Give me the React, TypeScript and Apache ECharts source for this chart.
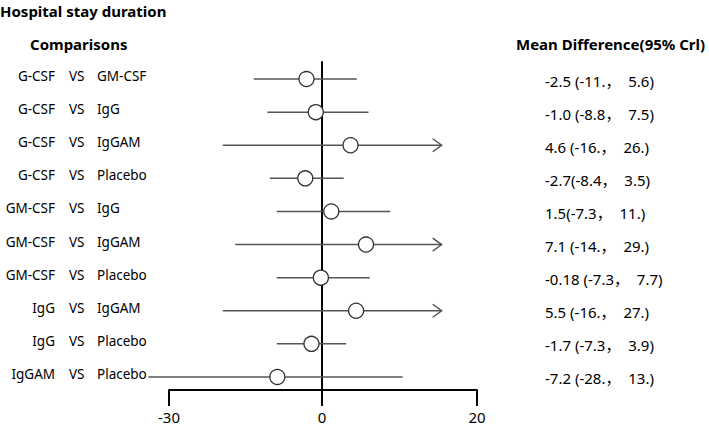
import React, { useEffect, useRef } from "react";
import * as echarts from "echarts";

const compA = ["G-CSF", "G-CSF", "G-CSF", "G-CSF", "GM-CSF", "GM-CSF", "GM-CSF", "IgG", "IgG", "IgGAM"];
const compB = ["GM-CSF", "IgG", "IgGAM", "Placebo", "IgG", "IgGAM", "Placebo", "IgGAM", "Placebo", "Placebo"];
const meanDiff = [-2.5, -1.0, 4.6, -2.7, 1.5, 7.1, -0.18, 5.5, -1.7, -7.2];
const lowerCrI = [-11, -8.8, -16, -8.4, -7.3, -14, -7.3, -16, -7.3, -28];
const upperCrI = [5.6, 7.5, 26, 3.5, 11, 29, 7.7, 27, 3.9, 13];
const mdLabels = [
  "-2.5 (-11.，  5.6)",
  "-1.0 (-8.8，  7.5)",
  "4.6 (-16.，  26.)",
  "-2.7(-8.4，  3.5)",
  "1.5(-7.3，  11.)",
  "7.1 (-14.，  29.)",
  "-0.18 (-7.3，  7.7)",
  "5.5 (-16.，  27.)",
  "-1.7 (-7.3，  3.9)",
  "-7.2 (-28.，  13.)",
];
const axisTicksLeft = [-30, 0];
const axisTicksRight = [0, 20];
const ARROW_CAP = 19.3;

const categories = compA.map((a, i) => `${a} VS ${compB[i]}`);
const FONT = "'Noto Sans', 'Noto Sans CJK SC', sans-serif";

export default function App() {
  const ref = useRef<HTMLDivElement>(null);
  useEffect(() => {
    document.body.style.margin = "0";
    const chart = echarts.init(ref.current!, null, { renderer: "svg" });
    const data = categories.map((_, i) => [i, lowerCrI[i], upperCrI[i], meanDiff[i]]);
    const labelData = categories.map((_, i) => [i, 0]);
    const txt = (text: string, x: number, y: number, align: string, size: number) => ({
      type: "text",
      x,
      y,
      style: { text, fontSize: size, fontFamily: FONT, fill: "#000", align, verticalAlign: "middle" },
    });
    const option: any = {
      animation: false,
      backgroundColor: "#fff",
      textStyle: { fontFamily: FONT, color: "#000" },
      title: [
        { text: "Hospital stay duration", left: 0, top: 3, padding: 0, textStyle: { fontSize: 15, fontWeight: "bold", color: "#000", fontFamily: FONT } },
        { text: "Comparisons", left: 30, top: 36, padding: 0, textStyle: { fontSize: 15, fontWeight: "bold", color: "#000", fontFamily: FONT } },
        { text: "Mean Difference(95% Crl)", left: 516, top: 36, padding: 0, textStyle: { fontSize: 15, fontWeight: "bold", color: "#000", fontFamily: FONT } },
      ],
      grid: [
        { left: 136, width: 310, top: 62.5, height: 331 },
        { left: 169, width: 153, top: 380, height: 10 },
        { left: 322, width: 155, top: 62, height: 328 },
      ],
      xAxis: [
        { type: "value", gridIndex: 0, min: -30, max: 20, show: false },
        {
          type: "value", gridIndex: 1, min: axisTicksLeft[0], max: axisTicksLeft[1], interval: 30,
          axisLine: { show: true, onZero: false, lineStyle: { color: "#000", width: 2 } },
          axisTick: { show: true, length: 16, lineStyle: { color: "#000", width: 2 } },
          axisLabel: { showMaxLabel: false, fontSize: 15, lineHeight: 15, margin: 19, color: "#000", fontFamily: FONT },
          splitLine: { show: false },
        },
        {
          type: "value", gridIndex: 2, min: axisTicksRight[0], max: axisTicksRight[1], interval: 20,
          axisLine: { show: true, onZero: false, lineStyle: { color: "#000", width: 2 } },
          axisTick: { show: true, length: 16, lineStyle: { color: "#000", width: 2 } },
          axisLabel: { fontSize: 15, lineHeight: 15, margin: 19, color: "#000", fontFamily: FONT },
          splitLine: { show: false },
        },
      ],
      yAxis: [
        { type: "category", gridIndex: 0, data: categories, inverse: true, show: false },
        { type: "value", gridIndex: 1, min: 0, max: 1, show: false },
        {
          type: "value", gridIndex: 2, min: 0, max: 1,
          axisLine: { show: true, onZero: false, lineStyle: { color: "#000", width: 2 } },
          axisTick: { show: false }, axisLabel: { show: false }, splitLine: { show: false },
        },
      ],
      series: [
        {
          type: "custom",
          name: "labels",
          xAxisIndex: 0,
          yAxisIndex: 0,
          silent: true,
          data: labelData,
          encode: { y: 0, x: 1 },
          renderItem: (_params: any, api: any) => {
            const idx = api.value(0);
            const p = api.coord([0, idx]);
            return {
              type: "group",
              children: [
                txt(compA[idx], 55, p[1] - 3, "right", 13.5),
                txt("VS", 69, p[1] - 3, "left", 13.5),
                txt(compB[idx], 97, p[1] - 3, "left", 13.5),
                txt(mdLabels[idx], 545, p[1] + 1.5, "left", 15),
              ],
            };
          },
        },
        {
          type: "custom",
          name: "estimates",
          xAxisIndex: 0,
          yAxisIndex: 0,
          z: 5,
          data,
          encode: { y: 0, x: [1, 2, 3] },
          renderItem: (_params: any, api: any) => {
            const idx = api.value(0);
            const lo = api.value(1);
            const hi = api.value(2);
            const m = api.value(3);
            const truncated = hi > ARROW_CAP;
            const pLo = api.coord([lo, idx]);
            const pHi = api.coord([Math.min(hi, ARROW_CAP), idx]);
            const pM = api.coord([m, idx]);
            const children: any[] = [
              {
                type: "line",
                shape: { x1: pLo[0], y1: pLo[1], x2: pHi[0], y2: pHi[1] },
                style: { stroke: "#555", lineWidth: 1.5 },
              },
            ];
            if (truncated) {
              children.push({
                type: "polyline",
                shape: { points: [[pHi[0] - 9, pHi[1] - 6.5], [pHi[0], pHi[1]], [pHi[0] - 9, pHi[1] + 6.5]] },
                style: { stroke: "#555", lineWidth: 1.5, fill: "none" },
              });
            }
            children.push({
              type: "circle",
              shape: { cx: pM[0], cy: pM[1], r: 7.5 },
              style: { stroke: "#333", lineWidth: 1.3, fill: "#fff" },
            });
            return { type: "group", children };
          },
        },
      ],
    };
    chart.setOption(option);
    return () => chart.dispose();
  }, []);
  return <div ref={ref} style={{ width: 709, height: 426 }} />;
}
